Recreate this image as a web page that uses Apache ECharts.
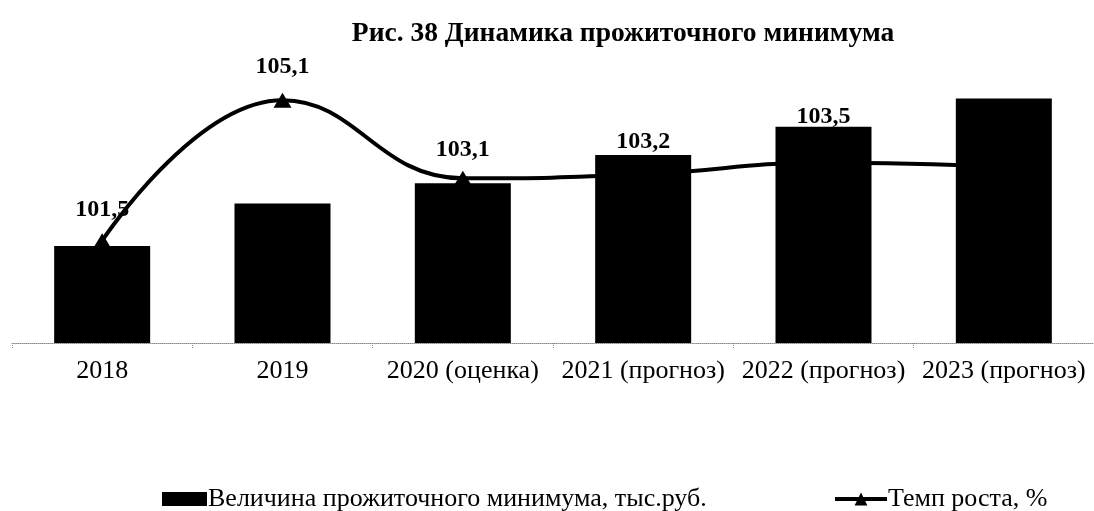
<!DOCTYPE html>
<html>
<head>
<meta charset="utf-8">
<script src="https://cdn.jsdelivr.net/npm/echarts@6/dist/echarts.min.js"></script>
<style>
  html, body { margin: 0; padding: 0; background: #ffffff; }
  #chart { width: 1094px; height: 511px; }
</style>
</head>
<body>
<div id="chart"></div>
<script>
const titleText = 'Рис. 38 Динамика прожиточного минимума';
const categories = ['2018', '2019', '2020 (оценка)', '2021 (прогноз)', '2022 (прогноз)', '2023 (прогноз)'];
const barName = 'Величина прожиточного минимума, тыс.руб.';
const lineName = 'Темп роста, %';
const barValues = [4.8, 6.9, 7.9, 9.3, 10.7, 12.1];
const growthValues = [101.5, 105.1, 103.1, 103.2, 103.5, 103.4];
const labelShown = [true, true, true, true, true, false];

// label placement tweaks (style only, not data)
const labelDistance = [18, 21, 16, 20, 33, 20];

const serif = 'Liberation Serif';

const labelData = growthValues.map((v, i) => ({
  value: v,
  label: { show: labelShown[i], distance: labelDistance[i] }
}));

const chart = echarts.init(document.getElementById('chart'), null, { renderer: 'canvas' });
chart.setOption({
  backgroundColor: '#ffffff',
  animation: false,
  title: {
    text: titleText,
    left: 618,
    textAlign: 'center',
    top: 15,
    textStyle: { fontFamily: serif, fontWeight: 'bold', fontSize: 27.5, color: '#000' }
  },
  legend: [
    {
      data: [barName],
      left: 157,
      top: 481,
      icon: 'rect',
      itemWidth: 45,
      itemHeight: 14,
      itemGap: 4,
      textStyle: { fontFamily: serif, fontSize: 26, color: '#000', padding: [0, 0, 0, -4] }
    },
    {
      data: [lineName],
      left: 828,
      top: 481,
      itemWidth: 52,
      itemHeight: 16,
      lineStyle: { width: 4, color: '#000' },
      textStyle: { fontFamily: serif, fontSize: 26, color: '#000', padding: [0, 0, 0, -4] }
    }
  ],
  grid: { left: 12, right: -9, top: 60, bottom: 168, containLabel: false },
  xAxis: {
    type: 'category',
    data: categories,
    axisLine: { show: true, lineStyle: { color: '#8a8a8a', type: 'dotted', width: 1 } },
    axisTick: { show: true, length: 5, lineStyle: { color: '#8a8a8a', type: 'dotted' } },
    axisLabel: { fontFamily: serif, fontSize: 26, color: '#000', margin: 15, interval: 0 }
  },
  yAxis: [
    { type: 'value', min: 0, max: 14, show: false, splitLine: { show: false } },
    { type: 'value', min: 98.88, max: 106.13, show: false, splitLine: { show: false } }
  ],
  series: [
    {
      name: lineName,
      type: 'line',
      yAxisIndex: 1,
      z: 2,
      smooth: 0.45,
      data: growthValues,
      symbol: 'triangle',
      symbolSize: [18, 15],
      itemStyle: { color: '#000' },
      lineStyle: { color: '#000', width: 4 },
      label: { show: false }
    },
    {
      name: barName,
      type: 'bar',
      yAxisIndex: 0,
      z: 3,
      data: barValues,
      barWidth: 96,
      itemStyle: { color: '#000' }
    },
    {
      name: 'labels',
      type: 'line',
      yAxisIndex: 1,
      z: 5,
      data: labelData,
      symbol: 'circle',
      symbolSize: 1,
      itemStyle: { color: 'rgba(0,0,0,0)' },
      lineStyle: { width: 0, opacity: 0 },
      silent: true,
      label: {
        show: true,
        position: 'top',
        fontFamily: serif,
        fontWeight: 'bold',
        fontSize: 24,
        color: '#000',
        formatter: p => String(p.value).replace('.', ',')
      }
    }
  ]
});
</script>
</body>
</html>
